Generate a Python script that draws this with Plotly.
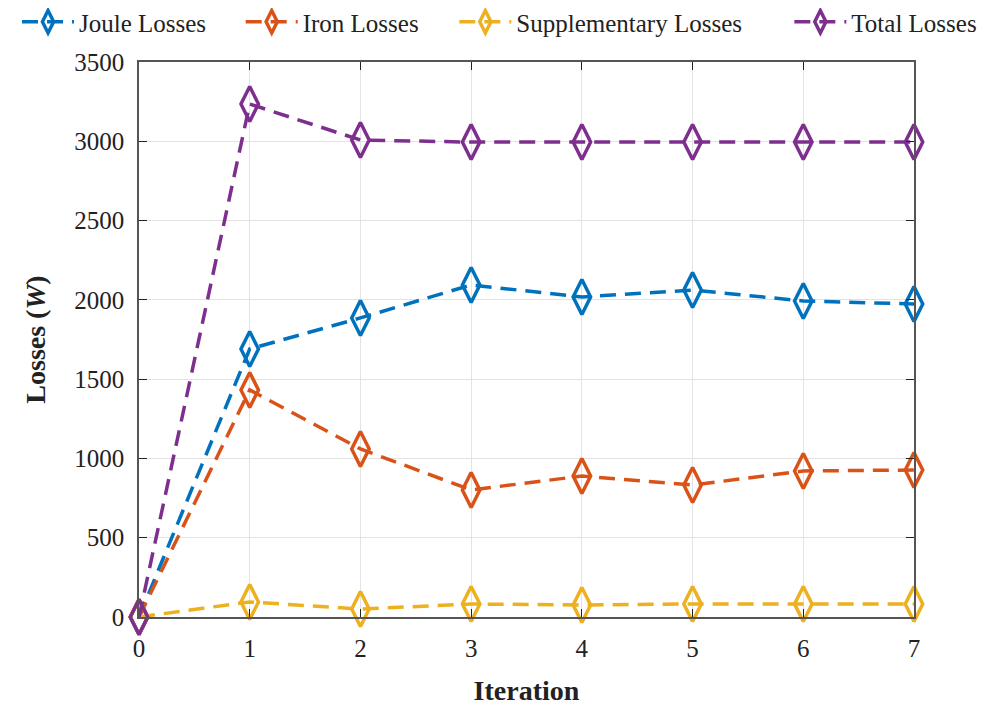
import plotly.graph_objects as go

iterations = [0, 1, 2, 3, 4, 5, 6, 7]
joule = [0, 1690, 1886, 2094, 2018, 2062, 1993, 1974]
iron = [0, 1432, 1060, 801, 889, 832, 921, 927]
supp = [0, 95, 50, 82, 76, 82, 82, 82]
total = [0, 3235, 3008, 2995, 2995, 2995, 2995, 2995]

names = ["Joule Losses", "Iron Losses", "Supplementary Losses", "Total Losses"]
colors = ["#0072BD", "#D95319", "#EDB120", "#7E2F8E"]
series = [joule, iron, supp, total]
legend_ids = ["legend", "legend2", "legend3", "legend4"]
legend_x = [0.009, 0.232, 0.445, 0.779]

FONT = "Liberation Serif"
fig = go.Figure()
for n, c, s, lg in zip(names, colors, series, legend_ids):
    fig.add_trace(go.Scatter(
        x=iterations, y=s, name=n, mode="lines+markers", cliponaxis=False, legend=lg,
        showlegend=True,
        line=dict(color=c, width=3.5, dash="16px,9px"),
        marker=dict(symbol="diamond-tall-open", size=25, color=c, line=dict(width=3.5, color=c)),
    ))

axis_common = dict(
    showline=True, linecolor="#555", linewidth=1.5, mirror="ticks",
    ticks="inside", ticklen=8, tickcolor="#222", ticklabelstandoff=8,
    showgrid=True, gridcolor="#e3e3e3", gridwidth=1, zeroline=False,
    tickfont=dict(family=FONT, size=25, color="#222"),
)
fig.update_xaxes(range=[0, 7], dtick=1, title=dict(text="<b>Iteration</b>", font=dict(family=FONT, size=28, color="#222"), standoff=20), **axis_common)
fig.update_yaxes(range=[0, 3500], dtick=500, title=dict(text="<b>Losses (<i>W</i>)</b>", font=dict(family=FONT, size=28, color="#222"), standoff=20), **axis_common)

legend_common = dict(orientation="h", xref="container", yref="container",
                     xanchor="left", y=1 - 14 / 707, yanchor="middle",
                     font=dict(family=FONT, size=25, color="#222"),
                     itemwidth=52, tracegroupgap=0, bgcolor="rgba(0,0,0,0)")
layout_legends = {lg: dict(x=lx, **legend_common) for lg, lx in zip(legend_ids, legend_x)}

fig.update_layout(
    width=1003, height=707,
    showlegend=True,
    margin=dict(l=131, r=97, t=54, b=98, autoexpand=False),
    plot_bgcolor="white", paper_bgcolor="white",
    font=dict(family=FONT),
    **layout_legends,
)
fig.write_html("out.html")
